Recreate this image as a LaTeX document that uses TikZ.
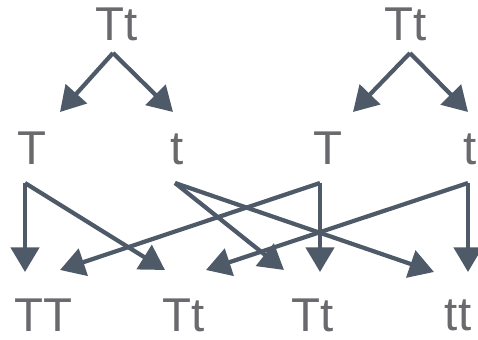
\documentclass[tikz,border=0pt]{standalone}
\usepackage{fontspec}
\setmainfont{Liberation Sans}
\usetikzlibrary{arrows.meta}
\definecolor{mygray}{RGB}{105,105,110}
\definecolor{myslate}{RGB}{78,90,104}
\tikzset{
  allele/.style={inner sep=0pt, text=mygray, font=\fontsize{27pt}{30pt}\selectfont},
  arrow/.style={-{Triangle[length=14pt, width=16pt]}, line width=2.4pt, color=myslate}
}
\begin{document}
\begin{tikzpicture}[x=0.02cm, y=-0.02cm]
  \useasboundingbox (0,0) rectangle (478,340);

  % parents
  \node[allele] (p1) at (117,24) {Tt};
  \node[allele] (p2) at (406,24) {Tt};

  % gametes
  \node[allele] (g1) at (32,148) {T};
  \node[allele] (g2) at (177,149) {t};
  \node[allele] (g3) at (328,148) {T};
  \node[allele] (g4) at (470,149) {t};

  % offspring
  \node[allele] (o1) at (43,315) {TT};
  \node[allele] (o2) at (184,315) {Tt};
  \node[allele] (o3) at (313,315) {Tt};
  \node[allele] (o4) at (458,315) {tt};

  % split points and arrow ends
  \coordinate (s1) at (113,53);
  \coordinate (s2) at (410,53);
  \coordinate (t1) at (60,112);
  \coordinate (t2) at (173,112);
  \coordinate (t3) at (353,112);
  \coordinate (t4) at (468,112);
  \coordinate (c1) at (25,183);
  \coordinate (c2) at (175,183);
  \coordinate (c3) at (320,183);
  \coordinate (c4) at (468,183);
  \coordinate (e1) at (25,272);
  \coordinate (e2) at (60,270);
  \coordinate (e3) at (165,270);
  \coordinate (e4) at (206,270);
  \coordinate (e5) at (284,270);
  \coordinate (e6) at (320,272);
  \coordinate (e7) at (434,272);
  \coordinate (e8) at (468,272);

  \draw[arrow] (s1) -- (t1);
  \draw[arrow] (s1) -- (t2);
  \draw[arrow] (s2) -- (t3);
  \draw[arrow] (s2) -- (t4);

  \draw[arrow] (c1) -- (e1);
  \draw[arrow] (c1) -- (e3);
  \draw[arrow] (c2) -- (e5);
  \draw[arrow] (c2) -- (e7);
  \draw[arrow] (c3) -- (e2);
  \draw[arrow] (c3) -- (e6);
  \draw[arrow] (c4) -- (e4);
  \draw[arrow] (c4) -- (e8);
\end{tikzpicture}
\end{document}
